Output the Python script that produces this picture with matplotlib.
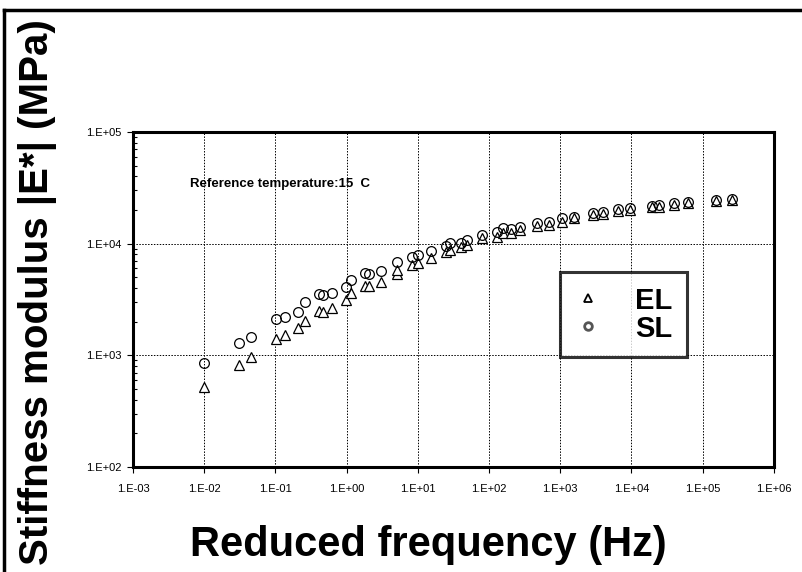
# Master curves of stiffness modulus, EL vs SL

import numpy as np
import matplotlib
matplotlib.use('Agg')
import matplotlib.pyplot as plt
from matplotlib.lines import Line2D
from matplotlib.ticker import FixedLocator, LogLocator, NullFormatter

plt.rcParams['font.family'] = ['Liberation Sans', 'DejaVu Sans']

# Reduced frequency (Hz) and |E*| (MPa)
freq_el = [0.010, 0.031, 0.045, 0.102, 0.137, 0.206, 0.262, 0.407, 0.465, 0.621,
           0.977, 1.14, 1.79, 2.09, 3.01, 5.12, 5.12, 8.15, 10.0, 15.1, 24.5, 27.9,
           40.0, 49.4, 80.5, 131, 157, 202, 270, 469, 684, 1057, 1574, 2851, 3945,
           6427, 9594, 19590, 24270, 39450, 62090, 156000, 258800]
mod_el = [523, 818, 959, 1390, 1520, 1740, 2028, 2495, 2455, 2667,
          3125, 3590, 4195, 4195, 4560, 5300, 5800, 6430, 6650, 7380, 8480, 8770,
          9270, 9770, 11150, 11530, 12360, 12360, 13250, 14380, 14660, 15710, 16830, 18030, 18400,
          19600, 20000, 21140, 21410, 22180, 22980, 24020, 24570]

freq_sl = [0.010, 0.031, 0.045, 0.102, 0.137, 0.206, 0.262, 0.407, 0.465, 0.621,
           0.977, 1.14, 1.79, 2.09, 3.01, 5.12, 8.15, 10.0, 15.1, 24.5, 27.9,
           40.0, 49.4, 80.5, 131, 157, 202, 270, 469, 684, 1057, 1574, 2851, 3945,
           6427, 9594, 19590, 24270, 39450, 62090, 156000, 258800]
mod_sl = [848, 1297, 1449, 2113, 2220, 2455, 3020, 3540, 3490, 3610,
          4111, 4690, 5420, 5310, 5690, 6890, 7640, 7900, 8650, 9510, 10040,
          10190, 10770, 11940, 12790, 13700, 13430, 14170, 15380, 15710, 16830, 17400, 18900, 19310,
          20280, 20700, 21730, 22180, 22980, 23730, 24570, 25080]

fig = plt.figure(figsize=(8.02, 5.72), dpi=100)
ax = fig.add_axes([0.1658, 0.1836, 0.7992, 0.5856])

ax.plot(freq_el, mod_el, linestyle='none', marker='^', markersize=6.5,
        markerfacecolor='white', markeredgecolor='black', markeredgewidth=0.9, zorder=3)
ax.plot(freq_sl, mod_sl, linestyle='none', marker='o', markersize=7,
        markerfacecolor='none', markeredgecolor='black', markeredgewidth=0.9, zorder=4)

ax.set_xscale('log')
ax.set_yscale('log')
ax.set_xlim(1e-3, 1e6)
ax.set_ylim(1e2, 1e5)

xt = [10.0 ** k for k in range(-3, 7)]
yt = [10.0 ** k for k in range(2, 6)]
ax.xaxis.set_major_locator(FixedLocator(xt))
ax.yaxis.set_major_locator(FixedLocator(yt))
ax.set_xticklabels(['1.E-03', '1.E-02', '1.E-01', '1.E+00', '1.E+01', '1.E+02',
                    '1.E+03', '1.E+04', '1.E+05', '1.E+06'])
ax.set_yticklabels(['1.E+02', '1.E+03', '1.E+04', '1.E+05'])
ax.xaxis.set_minor_locator(FixedLocator([]))
ax.yaxis.set_minor_locator(LogLocator(base=10, subs=np.arange(2, 10)))
ax.yaxis.set_minor_formatter(NullFormatter())

ax.tick_params(axis='both', which='major', direction='out', length=4, width=0.8,
               labelsize=8, pad=4)
ax.tick_params(axis='y', which='minor', direction='in', length=3, width=0.8)
ax.tick_params(axis='x', pad=8)

ax.grid(True, which='major', color='black', linestyle=(0, (1.5, 1.5)), linewidth=0.7)
ax.set_axisbelow(True)

for s in ax.spines.values():
    s.set_linewidth(2.2)

ax.text(10 ** -2.2, 10 ** 4.53, 'Reference temperature:15  C', fontsize=9.5,
        fontweight='bold', va='center', ha='left')

# legend box
h_el = Line2D([], [], linestyle='none', marker='^', markersize=5.5,
              markerfacecolor='white', markeredgecolor='black', markeredgewidth=1.3)
h_sl = Line2D([], [], linestyle='none', marker='o', markersize=5.5,
              markerfacecolor='white', markeredgecolor='#555555', markeredgewidth=2)
leg = ax.legend([h_el, h_sl], ['EL', 'SL'], loc='upper left',
                bbox_to_anchor=(0.666, 0.582), frameon=True, fancybox=False,
                prop={'weight': 'bold', 'size': 21}, handletextpad=1.17,
                labelspacing=0.0, borderpad=0.5, handlelength=0.9,
                borderaxespad=0)
leg.get_frame().set_edgecolor('black')
leg.get_frame().set_linewidth(2.2)

fig.text(0.534, 0.047, 'Reduced frequency (Hz)', fontsize=30, fontweight='bold',
         ha='center', va='center')
fig.text(0.047, 0.49, 'Stiffness modulus |E*| (MPa)', rotation=90, fontsize=29,
         fontweight='bold', ha='center', va='center')

# outer frame edges (top and left only visible)
fig.add_artist(Line2D([0.005, 1.0], [0.9825, 0.9825], color='black', linewidth=2.5,
                      transform=fig.transFigure))
fig.add_artist(Line2D([0.005, 0.005], [0.0, 0.9825], color='black', linewidth=2.5,
                      transform=fig.transFigure))

fig.savefig('out.png', dpi=100)
